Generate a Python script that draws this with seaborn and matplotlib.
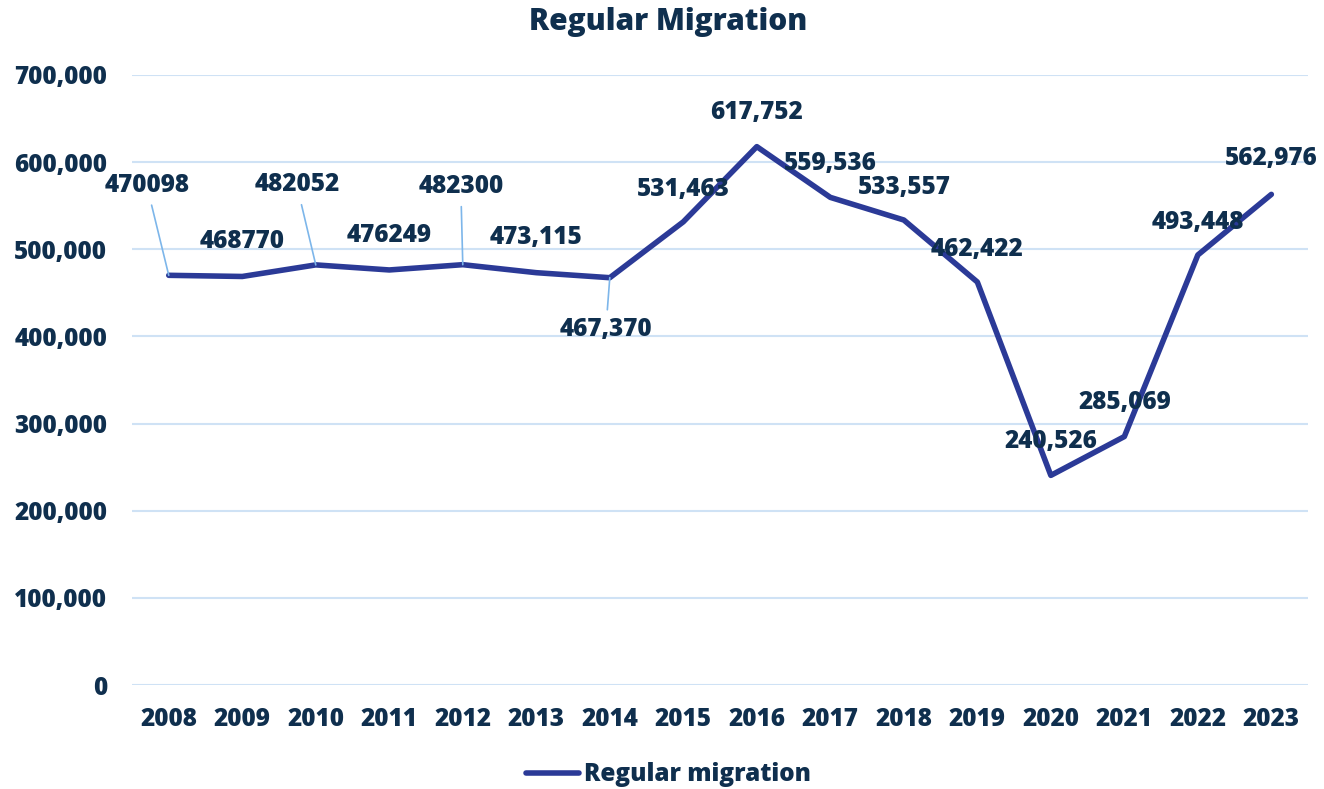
import matplotlib
matplotlib.use("Agg")
import matplotlib.pyplot as plt
import seaborn as sns
import pandas as pd

# data
years = [2008, 2009, 2010, 2011, 2012, 2013, 2014, 2015,
         2016, 2017, 2018, 2019, 2020, 2021, 2022, 2023]
regular_migration = [470098, 468770, 482052, 476249, 482300, 473115, 467370, 531463,
                     617752, 559536, 533557, 462422, 240526, 285069, 493448, 562976]
value_labels = ["470098", "468770", "482052", "476249", "482300", "473,115", "467,370", "531,463",
                "617,752", "559,536", "533,557", "462,422", "240,526", "285,069", "493,448", "562,976"]
y_ticks = [0, 100000, 200000, 300000, 400000, 500000, 600000, 700000]

# label offsets in pixels, and which labels get a leader line
offsets = [(-22, 90), (0, 35), (-19, 80), (0, 34), (-2, 78), (0, 35), (-4, -52), (0, 32),
           (0, 34), (0, 34), (0, 33), (0, 33), (0, 34), (0, 34), (0, 32), (0, 36)]
leaders = {2008, 2010, 2012, 2014}

TEXT = "#0F2F4E"
LINE = "#2B3A97"
GRID = "#CFE2F5"
LEADER = "#7DB6EA"
FS = 17.5
W = "heavy"

sns.set_theme(style="white")
plt.rcParams["font.family"] = ["Open Sans", "DejaVu Sans"]

df = pd.DataFrame({"year": years, "value": regular_migration})

fig = plt.figure(figsize=(13.24, 7.89), dpi=100)
ax = fig.add_axes([0.0997, 0.1318, 0.8883, 0.7732])

sns.lineplot(data=df, x="year", y="value", ax=ax, color=LINE, linewidth=4,
             label="Regular migration", legend=False)

ax.set_xlim(2007.5, 2023.5)
ax.set_ylim(0, 700000)
ax.set_yticks(y_ticks)
ax.set_yticklabels([f"{v:,}" for v in y_ticks])
ax.set_xticks(years)
ax.set_xticklabels([str(y) for y in years])
ax.grid(axis="y", color=GRID, linewidth=1.5)
ax.set_axisbelow(True)
for s in ax.spines.values():
    s.set_visible(False)
ax.tick_params(axis="both", length=0, labelsize=FS, labelcolor=TEXT)
ax.tick_params(axis="y", pad=18)
ax.tick_params(axis="x", pad=16)
for lbl in ax.get_xticklabels() + ax.get_yticklabels():
    lbl.set_fontweight(W)
ax.set_xlabel("")
ax.set_ylabel("")

for yr, val, txt, (dx, dy) in zip(years, regular_migration, value_labels, offsets):
    kw = {}
    if yr in leaders:
        kw["arrowprops"] = dict(arrowstyle="-", color=LEADER, lw=1.2,
                                shrinkA=3, shrinkB=0)
    ax.annotate(txt, xy=(yr, val), xytext=(dx, dy), textcoords="offset pixels",
                ha="center", va="center", fontsize=FS, fontweight=W,
                color=TEXT, **kw)

fig.suptitle("Regular Migration", x=0.505, y=0.972, va="center", fontsize=21.5,
             fontweight=W, color=TEXT)

handles, labels = ax.get_legend_handles_labels()
leg = fig.legend(handles, labels, loc="center", bbox_to_anchor=(0.505, 0.018),
                 frameon=False, fontsize=FS, handlelength=2.2, handletextpad=0.2)
for t in leg.get_texts():
    t.set_fontweight(W)
    t.set_color(TEXT)

fig.savefig("out.png", dpi=100)
